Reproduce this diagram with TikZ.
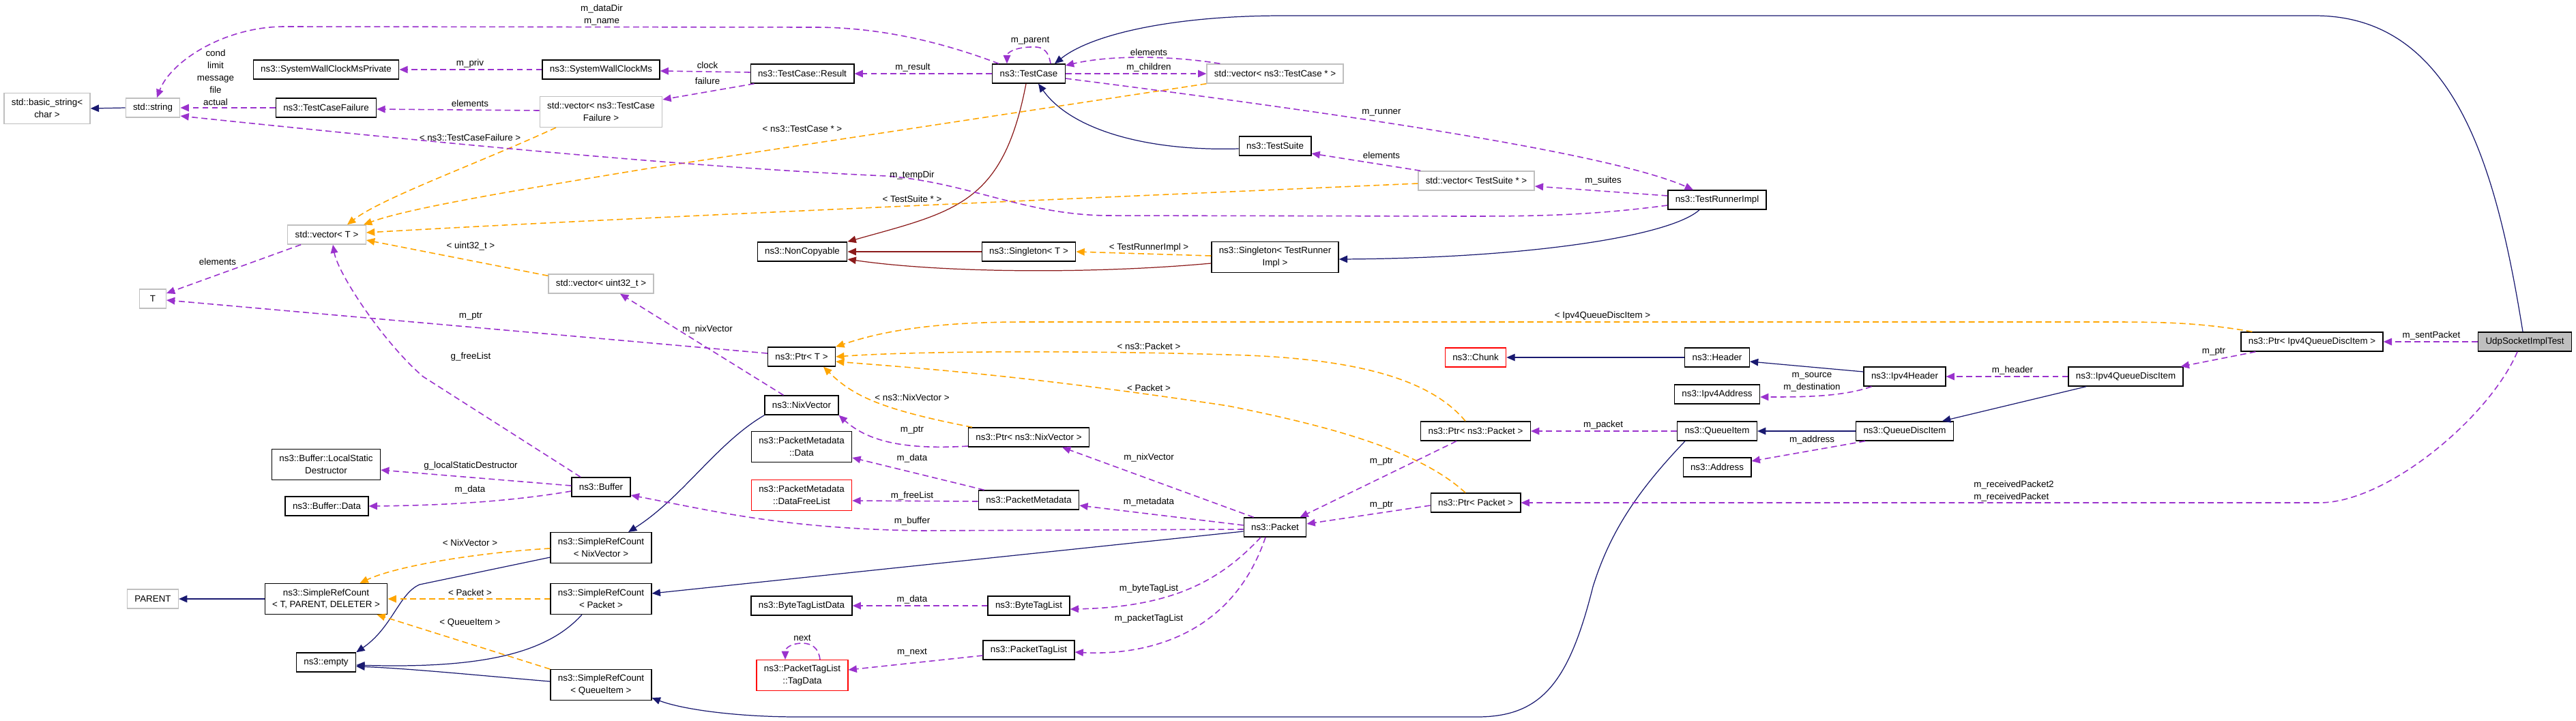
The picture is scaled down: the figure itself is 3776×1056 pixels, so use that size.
\documentclass[tikz,border=0pt]{standalone}
\usepackage{fontspec}
\newfontfamily\dxfont{Liberation Sans}
\newcommand{\dxsize}{\dxfont\fontsize{7.6pt}{10.2pt}\selectfont}
\usetikzlibrary{arrows.meta,calc}
\definecolor{inhblue}{HTML}{191970}
\definecolor{privred}{HTML}{8B1A1A}
\definecolor{usepurple}{HTML}{9A32CD}
\definecolor{tmplorange}{HTML}{FFA500}
\definecolor{boxgray}{HTML}{BFBFBF}
\tikzset{
  cls/.style={draw=black, line width=0.75pt, fill=white, align=center, font=\dxsize,
    inner xsep=6.2pt, inner ysep=2pt, minimum height=16pt},
  undoc/.style={cls, draw=boxgray},
  trunc/.style={cls, draw=red},
  self/.style={cls, fill=boxgray},
  two/.style={minimum height=25.5pt},
  lbl/.style={font=\dxsize, inner sep=0pt, align=center},
  inh/.style={draw=inhblue, line width=0.7pt, -{Triangle[length=7pt,width=6pt]}},
  priv/.style={inh, draw=privred},
  use/.style={draw=usepurple, line width=0.9pt, dash pattern=on 5pt off 3pt, -{Triangle[length=7pt,width=6pt]}},
  tmpl/.style={use, draw=tmplorange}
}
\begin{document}
\begin{tikzpicture}[x=0.02cm, y=-0.02cm]
\useasboundingbox (0,0) rectangle (3776,1056);
% test framework classes
\node[undoc,two] (basicStr) at (69,159) {std::basic\_string<\\char >};
\node[undoc] (stdString) at (224,158) {std::string};
\node[cls] (wallPriv) at (478,102) {ns3::SystemWallClockMsPrivate};
\node[cls] (wallClock) at (881,102) {ns3::SystemWallClockMs};
\node[cls] (caseFailure) at (478,158) {ns3::TestCaseFailure};
\node[undoc,two] (vecFailure) at (881,164) {std::vector< ns3::TestCase\\Failure >};
\node[undoc] (vecT) at (479,344) {std::vector< T >};
\node[cls] (caseResult) at (1176,108) {ns3::TestCase::Result};
\node[cls] (testCase) at (1508,108) {ns3::TestCase};
\node[undoc] (vecCase) at (1869,108) {std::vector< ns3::TestCase * >};
\node[cls] (testSuite) at (1869,214) {ns3::TestSuite};
\node[undoc] (vecSuite) at (2164,265) {std::vector< TestSuite * >};
\node[cls] (runnerImpl) at (2517,293) {ns3::TestRunnerImpl};
\node[cls] (nonCopy) at (1176,369) {ns3::NonCopyable};
\node[cls] (singT) at (1508,369) {ns3::Singleton< T >};
\node[cls,two] (singRunner) at (1869,377) {ns3::Singleton< TestRunner\\Impl >};
\node[undoc,minimum width=22pt] (tParam) at (224,438) {T};
\node[undoc] (vecU32) at (881,416) {std::vector< uint32\_t >};
% packet side
\node[cls] (ptrT) at (1175,523) {ns3::Ptr< T >};
\node[trunc] (chunk) at (2163,524) {ns3::Chunk};
\node[cls] (header) at (2517,524) {ns3::Header};
\node[cls] (ipv4Header) at (2792,552) {ns3::Ipv4Header};
\node[cls] (ipv4Item) at (3116,552) {ns3::Ipv4QueueDiscItem};
\node[cls] (ptrIpv4Item) at (3389,501) {ns3::Ptr< Ipv4QueueDiscItem >};
\node[self] (udpTest) at (3701,501) {UdpSocketImplTest};
\node[cls] (ipv4Addr) at (2517,578) {ns3::Ipv4Address};
\node[cls] (ptrNsPacket) at (2163,632) {ns3::Ptr< ns3::Packet >};
\node[cls] (queueItem) at (2517,632) {ns3::QueueItem};
\node[cls] (discItem) at (2792,632) {ns3::QueueDiscItem};
\node[cls] (address) at (2517,685) {ns3::Address};
\node[cls] (nixVector) at (1175,594) {ns3::NixVector};
\node[cls] (ptrNix) at (1508,641) {ns3::Ptr< ns3::NixVector >};
\node[cls,two] (metaData) at (1175,655) {ns3::PacketMetadata\\::Data};
\node[cls,two] (staticDtor) at (478,681) {ns3::Buffer::LocalStatic\\Destructor};
\node[cls] (buffer) at (881,714) {ns3::Buffer};
\node[cls] (bufData) at (479,742) {ns3::Buffer::Data};
\node[trunc,two] (freeList) at (1175,726) {ns3::PacketMetadata\\::DataFreeList};
\node[cls] (metadata) at (1508,733) {ns3::PacketMetadata};
\node[cls] (ptrPacket) at (2163,737) {ns3::Ptr< Packet >};
\node[cls] (packet) at (1869,773) {ns3::Packet};
\node[cls,two] (refNix) at (881,803) {ns3::SimpleRefCount\\< NixVector >};
\node[cls,two] (refBase) at (478,878) {ns3::SimpleRefCount\\< T, PARENT, DELETER >};
\node[undoc] (parent) at (224,878) {PARENT};
\node[cls,two] (refPacket) at (881,878) {ns3::SimpleRefCount\\< Packet >};
\node[cls] (byteData) at (1175,888) {ns3::ByteTagListData};
\node[cls] (byteList) at (1508,888) {ns3::ByteTagList};
\node[cls] (tagList) at (1508,953) {ns3::PacketTagList};
\node[trunc,two] (tagData) at (1176,990) {ns3::PacketTagList\\::TagData};
\node[cls] (empty) at (478,971) {ns3::empty};
\node[cls,two] (refItem) at (881,1004) {ns3::SimpleRefCount\\< QueueItem >};

% public inheritance
\draw[inh] ($(udpTest.north)+(-3,0)$) .. controls (3660,250) and (3600,23) .. (3393,23) -- (1880,23) .. controls (1720,23) and (1600,50) .. ($(testCase.north)+(38,0)$);
\draw[inh] ($(testSuite.west)+(0,4)$) .. controls (1680,222) and (1570,190) .. ($(testCase.south)+(14,0)$);
\draw[inh] ($(runnerImpl.south)+(-26,0)$) .. controls (2450,345) and (2250,378) .. ($(singRunner.east)+(0,3)$);
\draw[inh] (header.west) -- (chunk.east);
\draw[inh] ($(ipv4Header.west)+(0,-7)$) -- ($(header.east)+(0,6)$);
\draw[inh] ($(ipv4Item.south)+(-58,0)$) -- ($(discItem.north)+(55,0)$);
\draw[inh] (discItem.west) -- (queueItem.east);
\draw[inh] ($(queueItem.south)+(-47,0)$) .. controls (2400,720) and (2360,780) .. (2335,860) .. controls (2300,1000) and (2260,1051) .. (2165,1051) -- (1170,1051) .. controls (1080,1051) and (1000,1040) .. ($(refItem.east)+(0,19)$);
\draw[inh] ($(packet.west)+(0,6)$) -- ($(refPacket.east)+(0,-8)$);
\draw[inh] (nixVector.south west) .. controls (1050,650) and (1000,730) .. ($(refNix.north)+(40,0)$);
\draw[inh] ($(refNix.west)+(0,14)$) -- (615,857) .. controls (585,870) and (575,920) .. (empty.north east);
\draw[inh] ($(refPacket.south)+(-28,0)$) .. controls (800,960) and (700,980) .. ($(empty.east)+(0,4)$);
\draw[inh] ($(refItem.west)+(0,-5)$) .. controls (700,990) and (600,980) .. ($(empty.east)+(0,6)$);
\draw[inh] (refBase.west) -- (parent.east);
\draw[inh] (stdString.west) -- (basicStr.east);
% private inheritance
\draw[priv] ($(testCase.south)+(-4,0)$) .. controls (1470,300) and (1400,310) .. (nonCopy.north east);
\draw[priv] (singT.west) -- (nonCopy.east);
\draw[priv] ($(singRunner.west)+(0,9)$) .. controls (1600,402) and (1380,400) .. ($(nonCopy.east)+(0,11)$);
% template instances
\draw[tmpl] ($(vecFailure.south)+(-66,0)$) .. controls (700,240) and (560,290) .. ($(vecT.north)+(30,0)$);
\draw[tmpl] (vecCase.south west) -- (950,247) .. controls (750,280) and (600,305) .. ($(vecT.north east)+(-4,0)$);
\draw[tmpl] ($(vecSuite.west)+(0,4)$) .. controls (1600,290) and (900,320) .. ($(vecT.east)+(0,-3)$);
\draw[tmpl] ($(vecU32.north west)+(0,3)$) -- ($(vecT.east)+(0,8)$);
\draw[tmpl] ($(singRunner.west)+(0,-2)$) -- (singT.east);
\draw[tmpl] ($(ptrIpv4Item.north west)+(17,0)$) .. controls (3230,474) and (3180,472) .. (3100,472) -- (1500,472) .. controls (1350,472) and (1280,490) .. (ptrT.north east);
\draw[tmpl] ($(ptrNsPacket.north)+(-15,0)$) .. controls (2100,560) and (2000,525) .. (1800,520) .. controls (1600,514) and (1350,514) .. (ptrT.east);
\draw[tmpl] ($(ptrPacket.north)+(-15,0)$) .. controls (2080,660) and (1950,625) .. (1800,595) .. controls (1500,550) and (1350,540) .. ($(ptrT.east)+(0,7)$);
\draw[tmpl] ($(ptrNix.north west)+(6,0)$) .. controls (1290,600) and (1250,580) .. ($(ptrT.south)+(32,0)$);
\draw[tmpl] ($(refNix.west)+(0,1)$) .. controls (700,810) and (580,830) .. ($(refBase.north east)+(-41,0)$);
\draw[tmpl] (refPacket.west) -- (refBase.east);
\draw[tmpl] (refItem.north west) -- ($(refBase.south east)+(-16,0)$);
% usage relations
\draw[use] ($(testCase.north west)+(10,0)$) .. controls (1350,50) and (1260,40) .. (1195,40) -- (420,39) .. controls (330,38) and (250,90) .. ($(stdString.north)+(6,0)$);
\draw[use] (caseFailure.west) -- (stdString.east);
\draw[use] ($(runnerImpl.west)+(0,8)$) .. controls (2330,316) and (2250,317) .. (2150,317) -- (1620,316) .. controls (1500,314) and (1420,268) .. (1300,258) .. controls (1000,245) and (600,205) .. ($(stdString.east)+(0,12)$);
\draw[use] (wallClock.west) -- (wallPriv.east);
\draw[use] ($(vecFailure.west)+(0,-2)$) -- ($(caseFailure.east)+(0,2)$);
\draw[use] ($(caseResult.west)+(0,-2)$) -- ($(wallClock.east)+(0,2)$);
\draw[use] ($(caseResult.south west)+(6,0)$) -- ($(vecFailure.north east)+(0,5)$);
\draw[use] (testCase.west) -- (caseResult.east);
\draw[use] ($(testCase.north)+(32,0)$) .. controls (1536,70) and (1525,68) .. (1510,69) .. controls (1485,70) and (1476,78) .. ($(testCase.north)+(-32,0)$);
\draw[use] (testCase.east) -- (vecCase.west);
\draw[use] ($(vecCase.north west)+(20,0)$) .. controls (1720,82) and (1630,80) .. ($(testCase.east)+(0,-12)$);
\draw[use] ($(testCase.east)+(0,7)$) .. controls (1900,158) and (2350,220) .. ($(runnerImpl.north)+(-35,0)$);
\draw[use] ($(vecSuite.north west)+(4,0)$) -- ($(testSuite.east)+(0,11)$);
\draw[use] ($(runnerImpl.west)+(0,-6)$) -- ($(vecSuite.east)+(0,8)$);
\draw[use] ($(vecT.south west)+(20,0)$) -- ($(tParam.east)+(0,-8)$);
\draw[use] ($(ptrT.west)+(0,-5)$) -- ($(tParam.east)+(0,2)$);
\draw[use] ($(buffer.north)+(-30,0)$) -- (620,552) .. controls (560,500) and (495,400) .. ($(vecT.south)+(9,0)$);
\draw[use] ($(buffer.west)+(0,-2)$) -- ($(staticDtor.east)+(0,8)$);
\draw[use] ($(buffer.west)+(0,6)$) .. controls (750,735) and (650,741) .. (bufData.east);
\draw[use] ($(nixVector.north west)+(28,0)$) -- ($(vecU32.south)+(28,0)$);
\draw[use] ($(ptrNix.west)+(0,13)$) .. controls (1320,660) and (1270,645) .. (nixVector.south east);
\draw[use] ($(packet.north west)+(15,0)$) -- ($(ptrNix.south)+(49,0)$);
\draw[use] ($(metadata.north west)+(9,0)$) -- ($(metaData.east)+(0,16)$);
\draw[use] ($(metadata.west)+(0,2)$) -- ($(freeList.east)+(0,8)$);
\draw[use] ($(packet.west)+(0,-3)$) -- ($(metadata.east)+(0,8)$);
\draw[use] ($(packet.west)+(0,3)$) -- (1350,778) .. controls (1150,775) and (1050,750) .. ($(buffer.east)+(0,12)$);
\draw[use] ($(packet.south)+(-21,0)$) .. controls (1790,850) and (1720,890) .. ($(byteList.east)+(0,5)$);
\draw[use] ($(packet.south)+(-14,0)$) .. controls (1800,950) and (1650,960) .. ($(tagList.east)+(0,3)$);
\draw[use] (byteList.west) -- (byteData.east);
\draw[use] ($(tagList.west)+(0,8)$) -- ($(tagData.east)+(0,-8)$);
\draw[use] ($(tagData.north)+(26,0)$) .. controls (1200,950) and (1190,943) .. (1176,943) .. controls (1160,943) and (1151,950) .. ($(tagData.north)+(-25,0)$);
\draw[use] ($(ptrNsPacket.south)+(-28,0)$) -- ($(packet.north east)+(-10,0)$);
\draw[use] ($(ptrPacket.west)+(0,4)$) -- ($(packet.east)+(0,-5)$);
\draw[use] (queueItem.west) -- (ptrNsPacket.east);
\draw[use] ($(ipv4Header.south west)+(12,0)$) .. controls (2700,582) and (2640,582) .. ($(ipv4Addr.east)+(0,4)$);
\draw[use] (ipv4Item.west) -- (ipv4Header.east);
\draw[use] ($(discItem.south west)+(14,0)$) -- ($(address.east)+(0,-9)$);
\draw[use] ($(ptrIpv4Item.south west)+(22,0)$) -- ($(ipv4Item.north east)+(-4,0)$);
\draw[use] (udpTest.west) -- (ptrIpv4Item.east);
\draw[use] ($(udpTest.south)+(-11,0)$) .. controls (3650,610) and (3500,737) .. (3400,737) -- (ptrPacket.east);

% edge labels
\foreach \x/\y/\lab [count=\n] in {
  882/22/m\_dataDir\\m\_name,
  316/114/cond\\limit\\message\\file\\actual,
  689/93/m\_priv,
  689/152/elements,
  689/202/< ns3::TestCaseFailure >,
  1037/96/clock,
  1037/119/failure,
  1338/99/m\_result,
  1510/60/m\_parent,
  1684/77/elements,
  1684/99/m\_children,
  1176/189/< ns3::TestCase * >,
  1337/257/m\_tempDir,
  1337/292/< TestSuite * >,
  2025/165/m\_runner,
  2025/228/elements,
  2350/265/m\_suites,
  1684/363/< TestRunnerImpl >,
  319/384/elements,
  690/361/< uint32\_t >,
  690/464/m\_ptr,
  690/523/g\_freeList,
  1037/483/m\_nixVector,
  2349/463/< Ipv4QueueDiscItem >,
  1684/508/< ns3::Packet >,
  1684/569/< Packet >,
  1337/583/< ns3::NixVector >,
  1337/631/m\_ptr,
  1337/672/m\_data,
  1684/671/m\_nixVector,
  2656/560/m\_source\\m\_destination,
  2350/623/m\_packet,
  2656/645/m\_address,
  2025/677/m\_ptr,
  2950/543/m\_header,
  3245/516/m\_ptr,
  3564/492/m\_sentPacket,
  690/683/g\_localStaticDestructor,
  689/718/m\_data,
  1337/727/m\_freeList,
  1684/736/m\_metadata,
  1337/764/m\_buffer,
  2025/741/m\_ptr,
  689/796/< NixVector >,
  689/869/< Packet >,
  689/913/< QueueItem >,
  1337/879/m\_data,
  1684/863/m\_byteTagList,
  1684/907/m\_packetTagList,
  1176/935/next,
  1337/956/m\_next}
  \node[lbl] (lbl\n) at (\x,\y) {\lab};
\node[lbl, align=left, anchor=west] (recvLabel) at (2893,720) {m\_receivedPacket2\\m\_receivedPacket};
\end{tikzpicture}
\end{document}
